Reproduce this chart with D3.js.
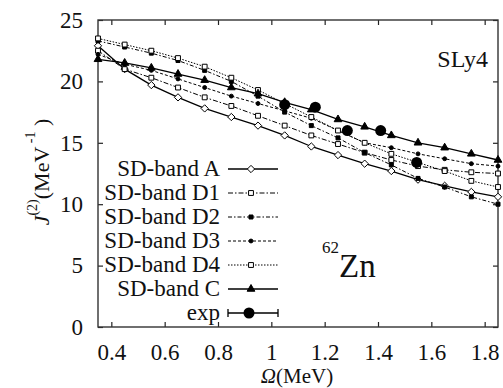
<!DOCTYPE html>
<html>
<head>
<meta charset="utf-8">
<script src="https://cdn.jsdelivr.net/npm/d3@7"></script>
<style>
	html, body { margin: 0; padding: 0; background: #fff; }
	svg { display: block; }
	svg text { font-family: "Liberation Serif", "Times New Roman", serif; }
</style>
</head>
<body>
<svg id="chart"></svg>
<script>
// rotational frequency (MeV)
const omega = [0.35, 0.45, 0.55, 0.65, 0.75, 0.85, 0.95, 1.05, 1.15, 1.25, 1.35, 1.45, 1.55, 1.65, 1.75, 1.85];

const bandA  = [22.9, 21.0, 19.7, 18.7, 17.8, 17.1, 16.4, 15.6, 14.7, 14.0, 13.3, 12.7, 12.0, 11.5, 11.0, 10.6];
const bandD1 = [22.5, 21.0, 20.3, 19.5, 18.7, 18.0, 17.2, 16.4, 15.6, 14.9, 14.2, 13.6, 13.1, 12.8, 12.6, 12.5];
const bandD2 = [23.3, 22.8, 22.3, 21.7, 20.9, 20.0, 18.8, 17.5, 16.4, 15.4, 14.2, 13.2, 12.1, 11.4, 10.6, 10.0];
const bandD3 = [22.2, 21.4, 20.9, 20.2, 19.5, 18.8, 18.2, 17.6, 17.0, 16.0, 15.0, 14.6, 14.1, 13.7, 13.3, 13.1];
const bandD4 = [23.5, 23.0, 22.5, 21.9, 21.2, 20.3, 19.3, 18.2, 17.1, 16.0, 15.0, 14.1, 13.4, 12.7, 11.9, 11.4];
const bandC  = [21.8, 21.5, 21.1, 20.6, 20.1, 19.5, 19.0, 18.3, 17.7, 16.9, 16.3, 15.6, 15.0, 14.6, 14.1, 13.6];

const expOmega = [1.05, 1.165, 1.285, 1.41, 1.545];
const expJ2    = [18.1, 17.9, 16.0, 16.0, 13.4];

const xTicks = [0.4, 0.6, 0.8, 1.0, 1.2, 1.4, 1.6, 1.8];
const xTickLabels = ["0.4", "0.6", "0.8", "1", "1.2", "1.4", "1.6", "1.8"];
const yTicks = [0, 5, 10, 15, 20, 25];

const SERIES = [
	{ name: "SD-band A",  values: bandA,  dash: null,        marker: "diamond",   fill: "#fff" },
	{ name: "SD-band D1", values: bandD1, dash: "5,2,1.5,2", marker: "square",    fill: "#fff" },
	{ name: "SD-band D2", values: bandD2, dash: "4,2,1.5,2", marker: "smallsq",   fill: "#000" },
	{ name: "SD-band D3", values: bandD3, dash: "3,2",       marker: "dot",       fill: "#000" },
	{ name: "SD-band D4", values: bandD4, dash: "1.5,1.5",   marker: "square",    fill: "#fff" },
	{ name: "SD-band C",  values: bandC,  dash: null,        marker: "triangle",  fill: "#000" }
];

const FONT = "Liberation Serif, Times New Roman, serif";
const width = 503;
const height = 388;
const margin = { top: 20, right: 5, bottom: 61, left: 98 };

const svg = d3.select("#chart")
	.attr("width", width)
	.attr("height", height)
	.attr("font-family", FONT);

const x = d3.scaleLinear([0.35, 1.85], [margin.left, width - margin.right]);
const y = d3.scaleLinear([0, 25], [height - margin.bottom, margin.top]);

function symbolPath(type) {
	switch (type) {
		case "diamond":  return d3.symbol(d3.symbolDiamond2, 34)();
		case "square":   return d3.symbol(d3.symbolSquare2, 30)();
		case "smallsq":  return d3.symbol(d3.symbolSquare, 16)();
		case "dot":      return d3.symbol(d3.symbolCircle, 12)();
		case "triangle": return d3.symbol(d3.symbolTriangle, 26)();
	}
}

// axes: inward ticks on all four sides
const tick = 5;
svg.append("g")
	.attr("transform", `translate(0, ${y(0)})`)
	.call(d3.axisBottom(x).tickValues(xTicks).tickSize(-tick).tickPadding(17)
		.tickFormat((d, i) => xTickLabels[i]))
	.call(g => g.select(".domain").remove());

svg.append("g")
	.attr("transform", `translate(0, ${y(25)})`)
	.call(d3.axisTop(x).tickValues(xTicks).tickSize(-tick).tickFormat(""))
	.call(g => g.select(".domain").remove());

svg.append("g")
	.attr("transform", `translate(${x(0.35)}, 0)`)
	.call(d3.axisLeft(y).tickValues(yTicks).tickSize(-tick).tickPadding(15))
	.call(g => g.select(".domain").remove());

svg.append("g")
	.attr("transform", `translate(${x(1.85)}, 0)`)
	.call(d3.axisRight(y).tickValues(yTicks).tickSize(-tick).tickFormat(""))
	.call(g => g.select(".domain").remove());

svg.selectAll("g").attr("font-family", FONT);
svg.selectAll(".tick text")
	.attr("font-size", 23)
	.attr("fill", "#111");
svg.selectAll(".tick line").attr("stroke", "#222").attr("stroke-width", 1.2);

svg.append("rect")
	.attr("x", x(0.35))
	.attr("y", y(25))
	.attr("width", x(1.85) - x(0.35))
	.attr("height", y(0) - y(25))
	.attr("fill", "none")
	.attr("stroke", "#333")
	.attr("stroke-width", 1.4);

// curves
const line = d3.line().x((d, i) => x(omega[i])).y(d => y(d));

for (const s of SERIES) {
	svg.append("path")
		.datum(s.values)
		.attr("d", line)
		.attr("fill", "none")
		.attr("stroke", "#000")
		.attr("stroke-width", s.dash ? 1 : 1.3)
		.attr("stroke-dasharray", s.dash);

	svg.append("g")
		.selectAll("path")
		.data(s.values)
		.join("path")
		.attr("transform", (d, i) => `translate(${x(omega[i])}, ${y(d)})`)
		.attr("d", symbolPath(s.marker))
		.attr("fill", s.fill)
		.attr("stroke", "#000")
		.attr("stroke-width", 1);
}

// experiment
svg.append("g")
	.selectAll("circle")
	.data(expJ2)
	.join("circle")
	.attr("cx", (d, i) => x(expOmega[i]))
	.attr("cy", d => y(d))
	.attr("r", 5.5)
	.attr("fill", "#000");

// legend
const legend = svg.append("g").attr("font-size", 23).attr("fill", "#111");
const rowY = i => 169 + i * 24;
const textX = 220, lineX0 = 228, lineX1 = 278, markX = 251;

SERIES.forEach((s, i) => {
	legend.append("text")
		.attr("x", textX)
		.attr("y", rowY(i))
		.attr("dy", "0.32em")
		.attr("text-anchor", "end")
		.text(s.name);
	legend.append("line")
		.attr("x1", lineX0).attr("x2", lineX1)
		.attr("y1", rowY(i)).attr("y2", rowY(i))
		.attr("stroke", "#000")
		.attr("stroke-width", s.dash ? 1 : 1.3)
		.attr("stroke-dasharray", s.dash);
	legend.append("path")
		.attr("transform", `translate(${markX}, ${rowY(i)})`)
		.attr("d", symbolPath(s.marker))
		.attr("fill", s.fill)
		.attr("stroke", "#000");
});

const expRow = rowY(SERIES.length);
legend.append("text")
	.attr("x", textX)
	.attr("y", expRow)
	.attr("dy", "0.32em")
	.attr("text-anchor", "end")
	.text("exp");
legend.append("line")
	.attr("x1", lineX0).attr("x2", lineX1)
	.attr("y1", expRow).attr("y2", expRow)
	.attr("stroke", "#000").attr("stroke-width", 1.3);
for (const ex of [lineX0, lineX1]) {
	legend.append("line")
		.attr("x1", ex).attr("x2", ex)
		.attr("y1", expRow - 4).attr("y2", expRow + 4)
		.attr("stroke", "#000").attr("stroke-width", 1.3);
}
legend.append("circle")
	.attr("cx", markX - 2).attr("cy", expRow).attr("r", 5.5).attr("fill", "#000");

// annotations
svg.append("text")
	.attr("x", 488).attr("y", 67)
	.attr("text-anchor", "end")
	.attr("font-size", 24)
	.attr("fill", "#111")
	.text("SLy4");

const nuc = svg.append("text")
	.attr("x", 322).attr("y", 277)
	.attr("fill", "#111");
nuc.append("tspan").attr("font-size", 17).attr("dy", -24).text("62");
nuc.append("tspan").attr("font-size", 33).attr("dy", 24).text("Zn");

// axis titles
const xt = svg.append("text")
	.attr("x", 297).attr("y", 383)
	.attr("text-anchor", "middle")
	.attr("font-size", 21)
	.attr("fill", "#111");
xt.append("tspan").attr("font-style", "italic").text("Ω");
xt.append("tspan").text("(MeV)");

const yt = svg.append("text")
	.attr("transform", "translate(49, 172) rotate(-90)")
	.attr("text-anchor", "middle")
	.attr("font-size", 22)
	.attr("fill", "#111");
yt.append("tspan").attr("font-style", "italic").text("J");
yt.append("tspan").attr("font-size", 14).attr("dy", -12).text("(2)");
yt.append("tspan").attr("dy", 12).text("(MeV");
yt.append("tspan").attr("font-size", 14).attr("dy", -14).text(" -1");
yt.append("tspan").attr("dy", 14).text(" )");
</script>
</body>
</html>
